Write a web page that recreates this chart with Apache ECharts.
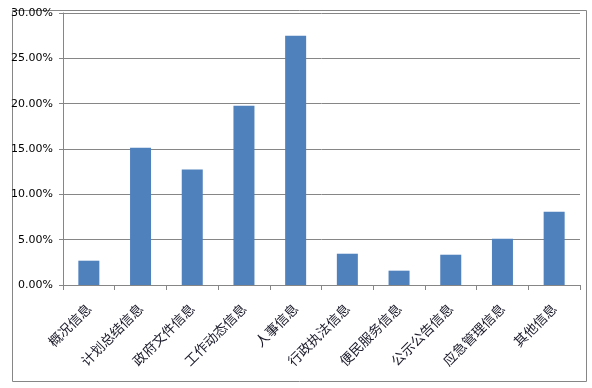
<!DOCTYPE html>
<html><head><meta charset="utf-8">
<script src="https://cdn.jsdelivr.net/npm/echarts@6/dist/echarts.min.js"></script>
<style>html,body{margin:0;padding:0;background:#fff}#c{width:592px;height:388px}</style>
</head><body><div id="c"></div>
<script>
const categories = ['概况信息','计划总结信息','政府文件信息','工作动态信息','人事信息','行政执法信息','便民服务信息','公示公告信息','应急管理信息','其他信息'];
const values = [2.68, 15.15, 12.73, 19.78, 27.5, 3.45, 1.58, 3.34, 5.1, 8.09];
const yTicks = [0, 5, 10, 15, 20, 25, 30];

const chart = echarts.init(document.getElementById('c'));
chart.setOption({
  animation: false,
  backgroundColor: '#fff',
  graphic: [{
    type: 'rect', left: 10, top: 8, shape: {width: 574, height: 371},
    style: {fill: 'none', stroke: '#868686', lineWidth: 1}, silent: true
  }],
  grid: {left: 63, right: 12, top: 13, bottom: 103},
  xAxis: {
    type: 'category', data: categories, boundaryGap: true,
    axisLine: {lineStyle: {color: '#868686'}},
    axisTick: {show: true, length: 5, lineStyle: {color: '#868686'}, alignWithLabel: false},
    axisLabel: {rotate: 45, interval: 0, margin: 21, color: '#1a1a2a', fontSize: 13.5,
      fontFamily: '"Noto Sans CJK SC", sans-serif'}
  },
  yAxis: {
    type: 'value', min: yTicks[0], max: yTicks[yTicks.length-1], interval: 5,
    axisLine: {show: true, lineStyle: {color: '#868686'}},
    axisTick: {show: true, length: 4, lineStyle: {color: '#868686'}},
    splitLine: {lineStyle: {color: '#868686'}},
    axisLabel: {margin: 10, color: '#000', fontSize: 11, fontFamily: '"DejaVu Sans", sans-serif',
      formatter: v => v.toFixed(2) + '%'}
  },
  series: [{
    type: 'bar', data: values, barWidth: 21,
    itemStyle: {color: '#4F81BD'}
  }]
});
</script></body></html>
